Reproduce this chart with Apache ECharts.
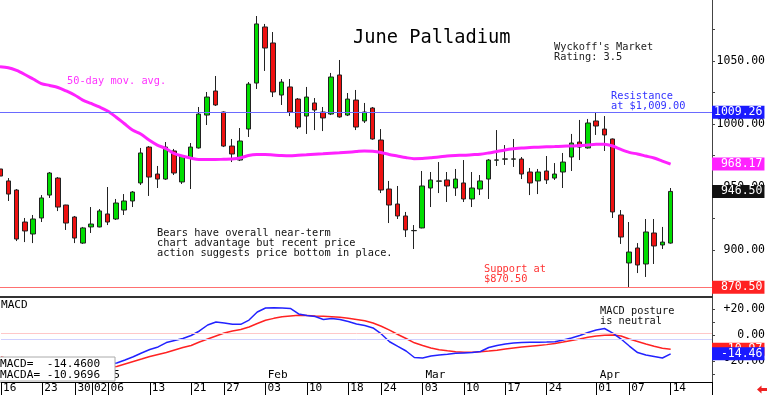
<!DOCTYPE html>
<html><head><meta charset="utf-8">
<script src="https://cdn.jsdelivr.net/npm/echarts@6/dist/echarts.min.js"></script>
<style>html,body{margin:0;padding:0;background:#fff}#c{width:768px;height:395px}</style>
</head><body><div id="c"></div>
<script>
// ---------- DATA ----------
const dates = [
 '2024-12-16','2024-12-17','2024-12-18','2024-12-19','2024-12-20','2024-12-23','2024-12-24','2024-12-26','2024-12-27','2024-12-30','2024-12-31',
 '2025-01-02','2025-01-03','2025-01-06','2025-01-07','2025-01-08','2025-01-09','2025-01-10','2025-01-13','2025-01-14','2025-01-15','2025-01-16','2025-01-17',
 '2025-01-21','2025-01-22','2025-01-23','2025-01-24','2025-01-27','2025-01-28','2025-01-29','2025-01-30','2025-01-31',
 '2025-02-03','2025-02-04','2025-02-05','2025-02-06','2025-02-07','2025-02-10','2025-02-11','2025-02-12','2025-02-13','2025-02-14',
 '2025-02-18','2025-02-19','2025-02-20','2025-02-21','2025-02-24','2025-02-25','2025-02-26','2025-02-27','2025-02-28',
 '2025-03-03','2025-03-04','2025-03-05','2025-03-06','2025-03-07','2025-03-10','2025-03-11','2025-03-12','2025-03-13','2025-03-14',
 '2025-03-17','2025-03-18','2025-03-19','2025-03-20','2025-03-21','2025-03-24','2025-03-25','2025-03-26','2025-03-27','2025-03-28','2025-03-31',
 '2025-04-01','2025-04-02','2025-04-03','2025-04-04','2025-04-07','2025-04-08','2025-04-09','2025-04-10','2025-04-11','2025-04-14'
];
const opens = [964.3,954.8,947.6,922.2,912.7,925.4,943.6,957.1,935.7,926.2,905.5,918.3,918.3,928.6,924.6,931.7,938.9,953.2,981.7,960.3,956.3,978.6,954.0,973.0,981.0,1007.1,1026.2,1009.5,982.5,971.4,996.0,1032.5,1077.0,1064.3,1023.0,1029.4,1019.8,1006.3,1016.7,1009.5,1007.9,1038.9,1007.1,1019.0,1002.4,1012.7,987.3,948.4,936.5,927.0,915.3,917.5,949.2,954.6,955.6,949.2,953.2,940.5,948.4,956.3,971.3,972.1,972.1,972.2,961.9,954.8,962.7,957.1,961.9,973.8,985.7,981.0,1002.4,996.0,988.1,927.8,889.7,901.6,888.9,913.5,904.0,905.5];
const closes = [958.7,944.4,908.7,915.1,924.6,941.3,961.1,934.1,921.4,909.5,917.5,920.6,931.0,922.2,937.3,938.9,946.0,977.0,957.9,956.3,981.7,961.1,974.6,981.7,1007.9,1021.4,1015.1,982.5,976.2,986.5,1031.7,1079.4,1060.3,1025.4,1033.3,1009.5,997.6,1021.4,1011.1,1004.8,1037.3,1005.6,1019.8,997.6,1009.5,988.1,947.6,935.7,927.0,915.9,915.5,950.8,955.6,954.8,950.8,956.3,940.5,949.2,954.8,971.4,971.5,972.3,972.3,960.3,953.2,961.9,955.6,960.3,969.8,984.9,981.7,1000.8,998.4,991.3,930.2,910.3,898.4,888.1,914.3,903.2,906.3,946.5];
const lows   = [954.0,938.9,907.1,906.3,905.5,922.2,941.3,930.9,915.9,905.5,904.8,913.5,918.0,919.8,923.8,927.8,934.1,951.6,942.9,949.2,955.6,959.5,952.4,948.4,980.5,999.2,1014.3,981.7,969.8,970.6,989.7,1027.8,1042.1,1021.4,1015.1,1006.3,996.0,992.1,995.2,994.4,1007.1,1005.0,1006.3,995.2,1000.8,987.5,945.2,921.4,924.6,910.3,900.8,917.2,934.1,945.2,938.1,942.9,938.1,934.1,943.6,940.5,966.7,967.5,965.9,956.3,943.6,944.4,952.4,955.6,949.2,962.7,971.4,980.5,991.3,978.6,925.4,904.8,870.5,881.7,878.6,888.9,900.8,905.0];
const highs  = [969.0,957.1,948.4,925.4,927.8,943.6,961.9,957.9,935.9,927.0,918.3,934.1,932.5,950.0,940.5,944.4,946.8,981.0,982.5,966.7,985.7,980.2,975.4,984.9,1013.5,1025.4,1038.1,1010.0,988.1,996.8,1033.3,1085.7,1079.4,1073.0,1035.7,1035.7,1020.6,1029.4,1020.6,1013.5,1040.5,1050.8,1024.6,1027.0,1016.7,1013.5,996.0,954.8,950.8,930.2,919.8,962.7,961.9,969.8,961.9,964.3,971.4,961.9,959.5,972.2,995.2,983.3,988.1,973.8,965.1,964.3,974.6,969.0,977.0,992.1,1003.2,1004.0,1009.0,1006.3,988.5,931.7,922.2,905.5,924.6,924.6,918.3,949.2];
const ma50 = [1045.5,1044.7,1042.5,1039.3,1035.7,1032.1,1030.6,1029.0,1026.2,1023.0,1019.0,1016.3,1013.5,1010.3,1005.6,1000.4,995.2,992.1,987.3,983.3,980.6,976.6,974.6,973.0,971.8,971.8,971.8,972.0,972.2,973.0,975.0,975.8,975.8,975.4,975.0,974.8,975.2,975.6,976.0,976.3,976.7,977.1,977.6,978.1,978.6,978.3,977.4,975.8,974.6,973.4,972.5,972.6,973.2,973.8,974.6,975.0,975.2,975.6,976.0,977.0,978.2,979.4,980.3,981.0,981.3,981.6,981.9,982.1,982.4,982.5,982.9,983.3,983.9,983.9,982.5,979.8,977.5,976.2,974.6,973.0,970.6,968.17];
const macd = [-22,-24,-26,-27,-27.5,-27.5,-27,-26.5,-26,-25.5,-25,-24,-23,-22.3,-21.5,-19.2,-16.7,-13.8,-11.2,-9.2,-5.8,-4.2,-2.7,-0.4,3.1,7.7,10,9.2,8.2,8.2,11.5,17.7,20.8,21,20.8,20.4,16.2,15,14.2,11.9,12.7,11.9,10.4,8.5,7.3,5.4,0.8,-5.2,-8.8,-12.3,-17.3,-17.7,-16.2,-15.4,-14.8,-14.1,-13.8,-13.5,-12.7,-9.6,-8.1,-6.9,-6.2,-5.8,-5.6,-5.5,-5.4,-5.2,-3.8,-2.3,-0.4,1.9,3.8,5,1.5,-3.1,-8.5,-13.5,-15.4,-16.5,-17.7,-14.46];
const macdAvg = [-17,-18.5,-20,-21,-22,-22.8,-23.4,-23.9,-24.3,-24.7,-24.9,-25,-24.9,-24.7,-24.2,-22.3,-20.4,-18.5,-16.5,-15,-13.5,-11.5,-9.6,-8.1,-5.4,-3.1,-0.8,1.5,3.1,4.2,6.2,8.8,11.3,12.8,14,14.6,15.1,15,14.6,14.4,14.1,13.6,12.9,11.9,10.9,9.2,6.7,3.8,0.4,-2.7,-6,-8.1,-10,-11.4,-12.2,-12.8,-13.2,-13.2,-12.8,-12.3,-11.7,-10.8,-10,-9.2,-8.6,-8,-7.4,-6.5,-5.4,-4.2,-3.1,-1.8,-0.8,-0.2,0,-0.8,-3.1,-5,-6.9,-8.7,-10.2,-10.9696];
const tickDates = ['2024-12-16','2024-12-23','2024-12-30','2025-01-02','2025-01-06','2025-01-13','2025-01-21','2025-01-27','2025-02-03','2025-02-10','2025-02-18','2025-02-24','2025-03-03','2025-03-10','2025-03-17','2025-03-24','2025-04-01','2025-04-07','2025-04-14'];
const monthMarks = {'2025-01-02':'2025','2025-02-03':'Feb','2025-03-03':'Mar','2025-04-01':'Apr'};
const priceLabels = [900, 950, 1000, 1050];
const priceTicks = [875, 900, 925, 950, 975, 1000, 1025, 1050, 1075];
const macdLabels = [20, 0, -20];
const macdTicks = [-30, -20, -10, 0, 10, 20];
const resistance = 1009.26;
const support = 870.50;
const macdRefLines = [1.3, -3.1];
const emptySlots = 5;

// ---------- CHART ----------
const MONO = '"DejaVu Sans Mono", monospace';
const cats = dates.concat(Array.from({length: emptySlots}, (_, i) => 'pad' + i));
const tickSet = new Set(tickDates);
const candles = dates.map((d, i) => [opens[i], closes[i], lows[i], highs[i]]);
const last = dates.length - 1;
const fmt = v => v.toFixed(2).padStart(7, ' ');

function boxLabel(text, bg) {
  return {show: true, position: 'end', distance: 0, formatter: text, backgroundColor: bg, color: '#fff',
    fontFamily: MONO, fontSize: 11.5, lineHeight: 13, padding: [0, 2, 0, 2]};
}

const chart = echarts.init(document.getElementById('c'), null, {renderer: 'canvas'});

const notes = [
  {x: 67, y: 81, color: '#ff33ff', lines: ['50-day mov. avg.']},
  {x: 554, y: 47, color: '#222', lines: ["Wyckoff's Market", 'Rating: 3.5']},
  {x: 611, y: 96, color: '#3333ff', lines: ['Resistance', 'at $1,009.00']},
  {x: 157, y: 233, color: '#111', lines: ['Bears have overall near-term', 'chart advantage but recent price', 'action suggests price bottom in place.']},
  {x: 484, y: 269, color: '#ff3333', lines: ['Support at', '$870.50']},
  {x: 600, y: 311, color: '#111', lines: ['MACD posture', 'is neutral']}
];
const graphics = [];
notes.forEach(n => n.lines.forEach((t, k) => graphics.push({
  type: 'text', x: n.x, y: n.y + k * 10.4, z: 50,
  style: {text: t, fill: n.color, font: '10.3px ' + MONO, textVerticalAlign: 'middle', verticalAlign: 'middle'}
})));
graphics.push({type: 'text', x: 353, y: 38, z: 50,
  style: {text: 'June Palladium', fill: '#000', font: '18.7px ' + MONO, textVerticalAlign: 'middle', verticalAlign: 'middle'}});
graphics.push({type: 'text', x: 1, y: 305, z: 50,
  style: {text: 'MACD', fill: '#000', font: '11.1px ' + MONO, textVerticalAlign: 'middle', verticalAlign: 'middle'}});
graphics.push({type: 'rect', z: 100, shape: {x: -1, y: 357, width: 116, height: 24},
  style: {fill: '#fff', stroke: '#aaa', lineWidth: 1}});
graphics.push({type: 'text', x: 0, y: 364, z: 101,
  style: {text: 'MACD=  ' + macd[last].toFixed(4), fill: '#000', font: '11.1px ' + MONO, textVerticalAlign: 'middle', verticalAlign: 'middle'}});
graphics.push({type: 'text', x: 0, y: 375, z: 101,
  style: {text: 'MACDA= ' + macdAvg[last].toFixed(4), fill: '#000', font: '11.1px ' + MONO, textVerticalAlign: 'middle', verticalAlign: 'middle'}});
graphics.push({type: 'polygon', z: 50, shape: {points: [[757, 389.5], [761.5, 385.5], [761.5, 388], [767, 388], [767, 391], [761.5, 391], [761.5, 393.5]]},
  style: {fill: '#ee2222'}});

const option = {
  animation: false,
  backgroundColor: '#fff',
  grid: [
    {left: 0, right: 54, top: 0, height: 297},
    {left: 0, right: 54, top: 297, height: 85},
    {left: 0, right: 54, top: 297, height: 85}
  ],
  xAxis: [
    {type: 'category', gridIndex: 0, data: cats, boundaryGap: false,
     axisLine: {show: true, onZero: false, lineStyle: {color: '#333', width: 2}},
     axisTick: {show: false}, axisLabel: {show: false}, splitLine: {show: false}},
    {type: 'category', gridIndex: 1, data: cats, boundaryGap: false, position: 'bottom',
     axisLine: {show: true, onZero: false, lineStyle: {color: '#000', width: 1}},
     axisTick: {show: true, length: 13, interval: (i, v) => tickSet.has(v) || i === cats.length - 1, lineStyle: {color: '#000'}},
     axisLabel: {show: true, interval: (i, v) => tickSet.has(v), formatter: v => v.slice(8), align: 'left',
       verticalAlign: 'top', margin: 1, padding: [0, 0, 0, 2], fontFamily: MONO, fontSize: 11.1, color: '#000', hideOverlap: false},
     splitLine: {show: false}},
    {type: 'category', gridIndex: 2, data: cats, boundaryGap: false, position: 'bottom',
     axisLine: {show: false}, axisTick: {show: false},
     axisLabel: {show: true, inside: true, interval: (i, v) => !!monthMarks[v], formatter: v => monthMarks[v] || '',
       align: 'left', verticalAlign: 'bottom', margin: 1, padding: [0, 0, 0, 2], fontFamily: MONO, fontSize: 11.1, color: '#000', hideOverlap: false},
     splitLine: {show: false}}
  ],
  yAxis: [
    {type: 'value', gridIndex: 0, position: 'right', min: 862.70, max: 1098.41,
     axisLine: {show: true, lineStyle: {color: '#444'}},
     axisTick: {show: true, customValues: priceTicks, length: 3, lineStyle: {color: '#444'}},
     axisLabel: {show: true, customValues: priceLabels, formatter: v => v.toFixed(2), align: 'right', margin: 53,
       fontFamily: MONO, fontSize: 11.5, color: '#000'},
     splitLine: {show: false}},
    {type: 'value', gridIndex: 1, position: 'right', min: -36.15, max: 29.23,
     axisLine: {show: true, lineStyle: {color: '#444'}},
     axisTick: {show: true, customValues: macdTicks, length: 3, lineStyle: {color: '#444'}},
     axisLabel: {show: true, customValues: macdLabels, formatter: v => (v > 0 ? '+' : '') + v.toFixed(2), align: 'right', margin: 53,
       fontFamily: MONO, fontSize: 11.5, color: '#000'},
     splitLine: {show: false}},
    {type: 'value', gridIndex: 2, show: false, min: 0, max: 1}
  ],
  graphic: graphics,
  series: [
    {type: 'candlestick', xAxisIndex: 0, yAxisIndex: 0, data: candles, barWidth: 5,
     itemStyle: {color: '#00dd00', color0: '#ee1111', borderColor: '#222', borderColor0: '#222', borderWidth: 1},
     markLine: {silent: true, symbol: 'none', animation: false,
       data: [
         {yAxis: resistance, lineStyle: {color: '#6a6aff', width: 1, type: 'solid'}, label: boxLabel(fmt(resistance), '#1a1aff')},
         {yAxis: support, lineStyle: {color: '#ff7070', width: 1, type: 'solid'}, label: boxLabel(fmt(support), '#ff2222')},
         {yAxis: closes[last], lineStyle: {color: 'rgba(0,0,0,0)', width: 0}, label: boxLabel(fmt(closes[last]), '#111')}
       ]}},
    {type: 'line', xAxisIndex: 0, yAxisIndex: 0, data: ma50, symbol: 'none', smooth: 0.3,
     lineStyle: {color: '#ff22ff', width: 3}, itemStyle: {color: '#ff22ff'},
     markLine: {silent: true, symbol: 'none', animation: false,
       data: [{yAxis: ma50[last], lineStyle: {color: 'rgba(0,0,0,0)', width: 0}, label: boxLabel(fmt(ma50[last]), '#ff22ff')}]}},
    {type: 'line', xAxisIndex: 1, yAxisIndex: 1, data: macdAvg, symbol: 'none',
     lineStyle: {color: '#ff2222', width: 1.5}, itemStyle: {color: '#ff2222'},
     markLine: {silent: true, symbol: 'none', animation: false,
       data: [
         {yAxis: macdRefLines[0], lineStyle: {color: '#ffc8c8', width: 1, type: 'solid'}, label: {show: false}},
         {yAxis: macdRefLines[1], lineStyle: {color: '#d0d0ff', width: 1, type: 'solid'}, label: {show: false}},
         {yAxis: macdAvg[last], lineStyle: {color: 'rgba(0,0,0,0)', width: 0}, label: boxLabel(fmt(macdAvg[last]), '#ff2222')}
       ]}},
    {type: 'line', xAxisIndex: 1, yAxisIndex: 1, data: macd, symbol: 'none',
     lineStyle: {color: '#2222ff', width: 1.5}, itemStyle: {color: '#2222ff'},
     markLine: {silent: true, symbol: 'none', animation: false,
       data: [{yAxis: macd[last], lineStyle: {color: 'rgba(0,0,0,0)', width: 0}, label: boxLabel(fmt(macd[last]), '#1a1aff')}]}}
  ]
};
chart.setOption(option);
</script>
</body></html>
